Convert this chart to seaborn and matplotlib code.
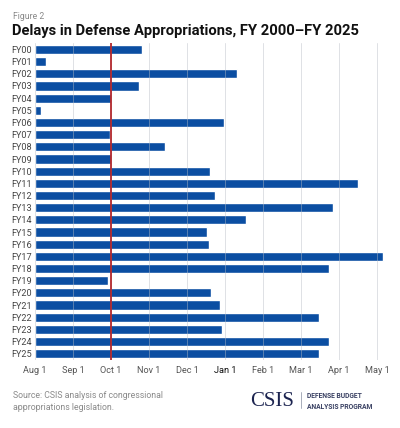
import calendar
import pandas as pd
import seaborn as sns
import matplotlib.pyplot as plt
from matplotlib.lines import Line2D

# Fiscal years and the date defense appropriations were enacted
fiscal_years = ['FY00', 'FY01', 'FY02', 'FY03', 'FY04', 'FY05', 'FY06', 'FY07', 'FY08',
                'FY09', 'FY10', 'FY11', 'FY12', 'FY13', 'FY14', 'FY15', 'FY16', 'FY17',
                'FY18', 'FY19', 'FY20', 'FY21', 'FY22', 'FY23', 'FY24', 'FY25']
enacted = ['1999-10-25', '2000-08-09', '2002-01-10', '2002-10-23', '2003-09-30', '2004-08-05',
           '2005-12-30', '2006-09-29', '2007-11-13', '2008-09-30', '2009-12-19', '2011-04-15',
           '2011-12-23', '2013-03-26', '2014-01-17', '2014-12-16', '2015-12-18', '2017-05-05',
           '2018-03-23', '2018-09-28', '2019-12-20', '2020-12-27', '2022-03-15', '2022-12-29',
           '2024-03-23', '2025-03-15']
month_labels = ['Aug 1', 'Sep 1', 'Oct 1', 'Nov 1', 'Dec 1', 'Jan 1',
                'Feb 1', 'Mar 1', 'Apr 1', 'May 1']


def months_since_aug1(d):
    # months elapsed since Aug 1, each month drawn the same width
    m = (d.month - 8) % 12
    return m + d.day / calendar.monthrange(d.year, d.month)[1]


df = pd.DataFrame({'fy': fiscal_years, 'date': pd.to_datetime(enacted)})
df['delay'] = df['date'].apply(months_since_aug1)

sns.set_theme(style='white')
plt.rcParams['font.family'] = ['Roboto', 'DejaVu Sans']

fig = plt.figure(figsize=(4.0, 4.28), dpi=100)
ax = fig.add_axes([0.0875, 0.158, 0.888, 0.742])

sns.barplot(data=df, x='delay', y='fy', orient='h', color='#0b4ea2', saturation=1,
            width=0.75, ax=ax, zorder=2)

ax.set_xlim(0, 9.35)
ax.set_ylim(25.55, -0.55)
ax.set_xticks(range(len(month_labels)))
ax.set_xticklabels(month_labels)
for lab in ax.get_xticklabels():
    lab.set_color('#111111' if lab.get_text() == 'Jan 1' else '#555555')
ax.tick_params(axis='x', labelsize=6.6, length=0, pad=4)
ax.tick_params(axis='y', labelsize=6.6, length=0, pad=2, labelcolor='#444444')
ax.set_xlabel('')
ax.set_ylabel('')
ax.grid(axis='x', color='#b8bcc4', linewidth=0.7, alpha=0.45, zorder=3)
ax.set_axisbelow(False)
for s in ax.spines.values():
    s.set_visible(False)

# start of the fiscal year
ax.axvline(2, color='#b3282d', linewidth=1.3, zorder=4)

fig.text(0.032, 0.962, 'Figure 2', fontsize=6.2, color='#888888', va='center')
fig.text(0.03, 0.928, 'Delays in Defense Appropriations, FY 2000\u2013FY 2025',
         fontsize=10.6, fontweight='bold', color='#111111', va='center')
fig.text(0.032, 0.062, 'Source: CSIS analysis of congressional\nappropriations legislation.',
         fontsize=6.3, color='#8a8a8a', va='center', linespacing=1.3)

fig.text(0.625, 0.063, 'CSIS', family=['Liberation Serif', 'DejaVu Serif'],
         fontsize=15, color='#1c2450', va='center')
fig.add_artist(Line2D([0.752, 0.752], [0.047, 0.084], color='#9aa0b0', linewidth=0.6))
fig.text(0.768, 0.063, 'DEFENSE BUDGET\nANALYSIS PROGRAM', fontsize=4.9, fontweight='bold',
         color='#3a4163', va='center', linespacing=1.5)

fig.savefig('out.png', dpi=100, facecolor='white')
